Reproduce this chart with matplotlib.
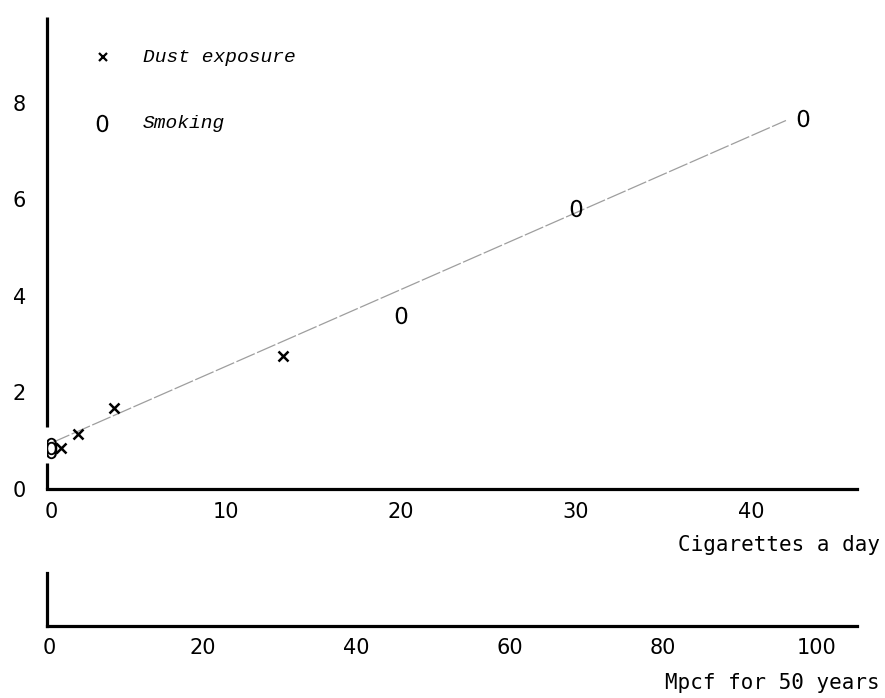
import numpy as np
import matplotlib
matplotlib.use('Agg')
from matplotlib import pyplot as plt

# smoking: cigarettes a day
smoke_cig = [0, 0, 20, 30, 43]
smoke_val = [0.81, 0.90, 3.60, 5.82, 7.68]

# dust exposure: Mpcf for 50 years
dust_mpcf = [1.6, 3.8, 8.5, 30.5]
dust_val = [0.85, 1.14, 1.68, 2.75]

# fitted line (cigarette scale)
fit_b = 0.95
fit_a = 0.159
fit_x = [0, 42]

cig_ticks = [0, 10, 20, 30, 40]
mpcf_ticks = [0, 20, 40, 60, 80, 100]
val_ticks = [0, 2, 4, 6, 8]

mono = 'DejaVu Sans Mono'
num = 'DejaVu Sans'
zero = r'$\mathrm{0}$'
W, H = 885, 698

fig = plt.figure(figsize=(W / 100, H / 100), dpi=100)
fig.patch.set_facecolor('white')

# main axes
ax = fig.add_axes([47 / W, 1 - 489 / H, 810 / W, 472 / H])
ax.set_xlim(-0.23, 46.06)
ax.set_ylim(0, 9.77)
for s in ['top', 'right', 'left']:
    ax.spines[s].set_visible(False)
ax.spines['bottom'].set_linewidth(2.3)

# y axis drawn in two pieces, broken round the zero marks
yt = ax.get_yaxis_transform()
ax.plot([0, 0], [0, 0.54], transform=yt, color='black', lw=2.3, clip_on=False, solid_capstyle='butt')
ax.plot([0, 0], [1.29, 9.77], transform=yt, color='black', lw=2.3, clip_on=False, solid_capstyle='butt')

ax.set_xticks(cig_ticks)
ax.set_yticks(val_ticks)
ax.tick_params(axis='x', length=0, pad=9, labelsize=15)
ax.tick_params(axis='y', length=0, pad=15, labelsize=15)
for lab in ax.get_xticklabels() + ax.get_yticklabels():
    lab.set_family(num)

fy = fit_b + fit_a * np.array(fit_x)
ax.plot(fit_x, fy, color='0.62', lw=0.9, dashes=(16, 2))

ax.plot(smoke_cig, smoke_val, ls='none', marker=zero, ms=12.5, color='black', mew=0)

# dust points on the Mpcf scale
ax2 = ax.twiny()
ax2.set_xlim(-0.26, 105.3)
ax2.axis('off')
ax2.plot(dust_mpcf, dust_val, ls='none', marker='x', ms=7, mew=1.8, color='black')

# legend
ax.plot([0.069], [0.915], marker='x', ms=6, mew=1.6, color='black', transform=ax.transAxes, clip_on=False)
ax.text(0.1185, 0.915, 'Dust exposure', transform=ax.transAxes, va='center', ha='left',
        fontsize=14, family='Liberation Mono', style='italic')
ax.plot([0.068], [0.775], marker=zero, ms=12.5, mew=0, color='black', transform=ax.transAxes, clip_on=False)
ax.text(0.1185, 0.775, 'Smoking', transform=ax.transAxes, va='center', ha='left',
        fontsize=14, family='Liberation Mono', style='italic')

# second scale underneath
axb = fig.add_axes([47 / W, 1 - 626 / H, 810 / W, 53 / H])
axb.set_xlim(-0.26, 105.3)
axb.set_ylim(0, 1)
for s in ['top', 'right']:
    axb.spines[s].set_visible(False)
axb.spines['bottom'].set_linewidth(2.3)
axb.spines['left'].set_linewidth(2.3)
axb.set_yticks([])
axb.set_xticks(mpcf_ticks)
axb.tick_params(axis='x', length=0, pad=9, labelsize=15)
for lab in axb.get_xticklabels():
    lab.set_family(num)

fig.text(880 / W, 1 - 545 / H, 'Cigarettes a day', ha='right', va='center', fontsize=15, family=mono)
fig.text(880 / W, 1 - 683 / H, 'Mpcf for 50 years', ha='right', va='center', fontsize=15, family=mono)

fig.savefig('out.png', dpi=100, facecolor='white')
